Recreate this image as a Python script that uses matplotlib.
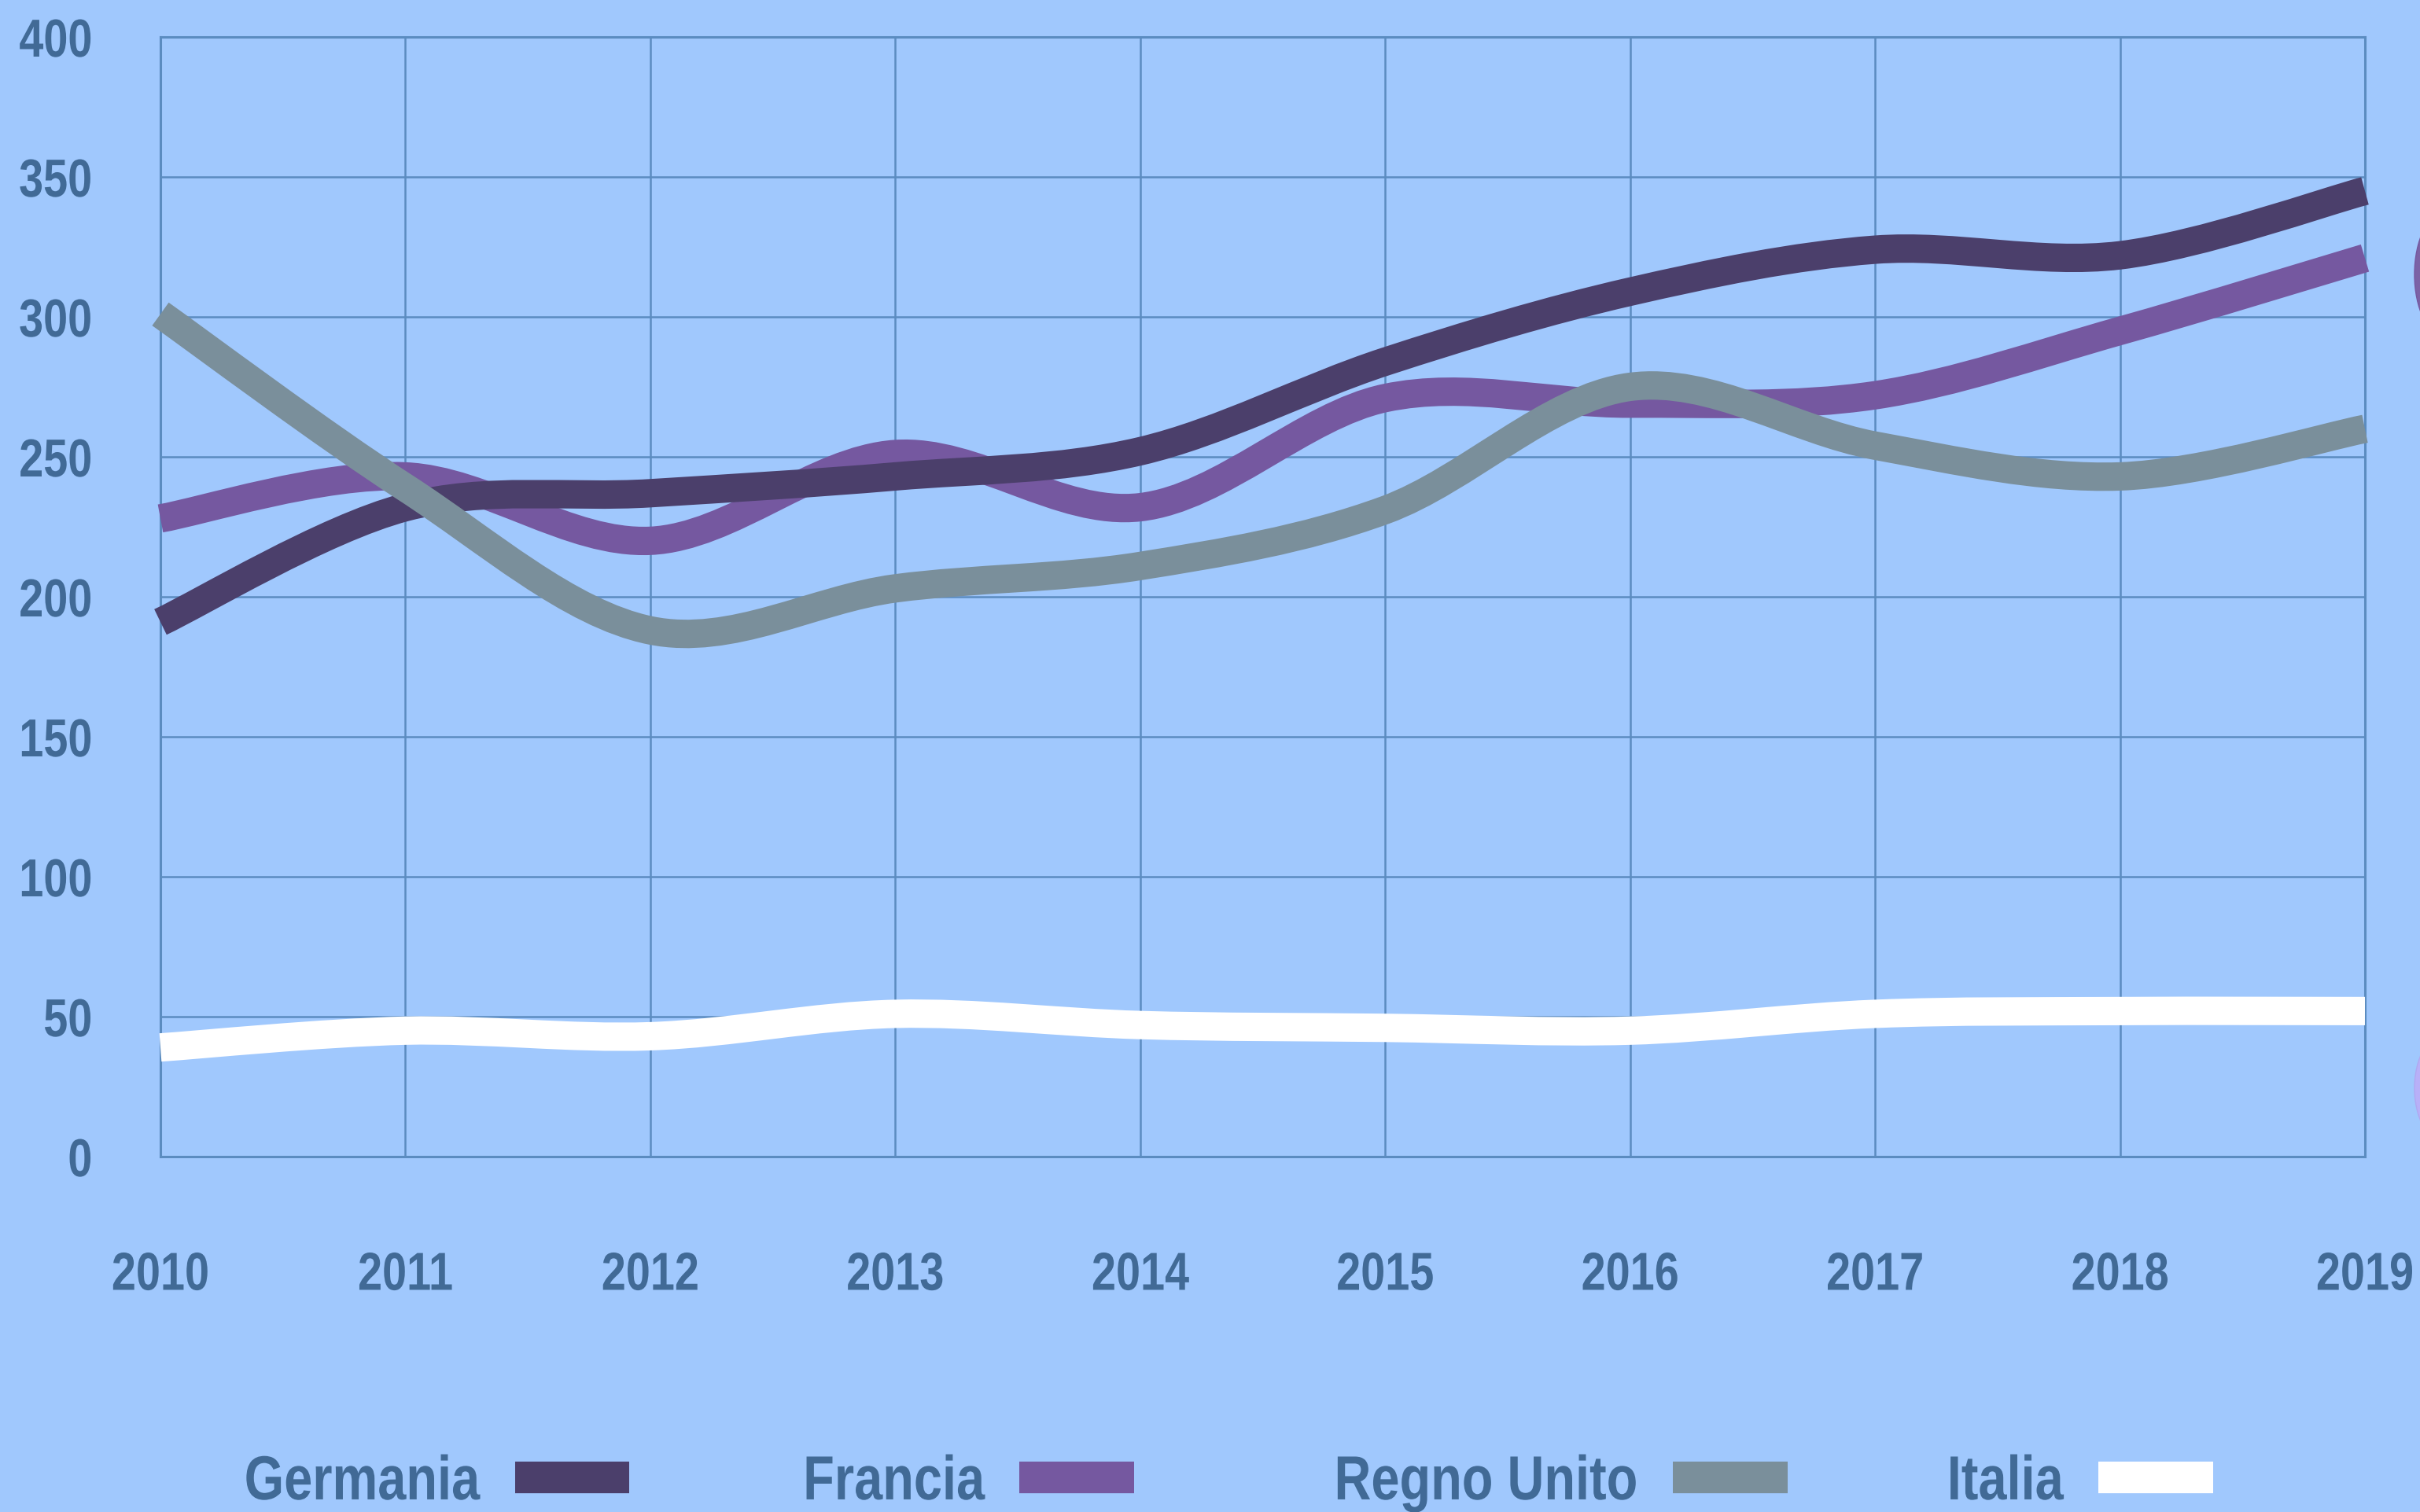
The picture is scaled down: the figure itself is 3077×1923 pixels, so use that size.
import matplotlib
matplotlib.use("Agg")
import matplotlib.pyplot as plt
from matplotlib.path import Path
from matplotlib.patches import PathPatch, Ellipse
from matplotlib.lines import Line2D
from matplotlib.patheffects import AbstractPathEffect
from matplotlib.transforms import Affine2D

years = [2010, 2011, 2012, 2013, 2014, 2015, 2016, 2017, 2018, 2019]
germania = [191, 232, 237, 243, 252, 284, 309, 324, 322, 345]
francia = [228, 243, 220, 251, 232, 271, 269, 272, 295, 321]
regno_unito = [301, 239, 188, 203, 211, 231, 275, 254, 243, 260]
italia = [39, 45, 43, 51, 47, 46, 45, 51, 52, 52]
series_names = ["Germania", "Francia", "Regno Unito", "Italia"]
y_ticks = [0, 50, 100, 150, 200, 250, 300, 350, 400]

colors = {"Germania": "#4b3f6b", "Francia": "#7558a0",
          "Regno Unito": "#7a8f9b", "Italia": "#ffffff"}
BG = "#a0c8fd"
GRID = "#5b8cc0"
TXT = "#416a96"

plt.rcParams["font.family"] = ["Liberation Sans", "DejaVu Sans"]


class Condense(AbstractPathEffect):
    """Draw text horizontally condensed (like a narrow font)."""

    def __init__(self, scale=0.82, anchor="center"):
        super().__init__()
        self.scale = scale
        self.anchor = anchor

    def draw_path(self, renderer, gc, tpath, affine, rgbFace=None):
        ext = tpath.get_extents()
        if self.anchor == "left":
            a = ext.x0
        elif self.anchor == "right":
            a = ext.x1
        else:
            a = 0.5 * (ext.x0 + ext.x1)
        t = Affine2D().translate(-a, 0).scale(self.scale, 1).translate(a, 0) + affine
        renderer.draw_path(gc, tpath, t, rgbFace)


W, H, DPI = 3077, 1924, 100
fig = plt.figure(figsize=(W / DPI, H / DPI), dpi=DPI, facecolor=BG)
ax = fig.add_axes([204 / W, 1 - 1472 / H, (3007 - 204) / W, (1472 - 48) / H])
ax.set_facecolor(BG)
ax.set_xlim(years[0], years[-1])
ax.set_ylim(0, 400)
ax.set_xticks(years)
ax.set_xticklabels([str(y) for y in years])
ax.set_yticks(y_ticks)
ax.set_yticklabels([str(v) for v in y_ticks])
ax.grid(True, color=GRID, linewidth=1.8)
ax.set_axisbelow(True)
for s in ax.spines.values():
    s.set_color(GRID)
    s.set_linewidth(2.2)
ax.tick_params(axis="both", length=0, labelcolor=TXT, labelsize=49)
ax.tick_params(axis="y", pad=62)
ax.tick_params(axis="x", pad=86)
for lab in ax.get_xticklabels():
    lab.set_fontweight("bold")
    lab.set_path_effects([Condense(0.82, "center")])
for lab in ax.get_yticklabels():
    lab.set_fontweight("bold")
    lab.set_path_effects([Condense(0.82, "right")])


def smooth_path(xs, ys):
    pts = list(zip(xs, ys))
    n = len(pts)
    verts = [pts[0]]
    codes = [Path.MOVETO]
    for i in range(n - 1):
        p0 = pts[i - 1] if i > 0 else pts[i]
        p1 = pts[i]
        p2 = pts[i + 1]
        p3 = pts[i + 2] if i + 2 < n else pts[i + 1]
        c1 = (p1[0] + (p2[0] - p0[0]) / 6, p1[1] + (p2[1] - p0[1]) / 6)
        c2 = (p2[0] - (p3[0] - p1[0]) / 6, p2[1] - (p3[1] - p1[1]) / 6)
        verts += [c1, c2, p2]
        codes += [Path.CURVE4] * 3
    return Path(verts, codes)


data = {"Germania": germania, "Francia": francia,
        "Regno Unito": regno_unito, "Italia": italia}
draw_order = ["Francia", "Germania", "Regno Unito", "Italia"]
LW = 26
for z, name in enumerate(draw_order):
    patch = PathPatch(smooth_path(years, data[name]), facecolor="none",
                      edgecolor=colors[name], linewidth=LW, capstyle="butt",
                      joinstyle="round", zorder=3 + z, clip_on=False)
    ax.add_patch(patch)

handles = [Line2D([], [], color=colors[n], linewidth=29, solid_capstyle="butt")
           for n in series_names]
leg = fig.legend(handles, series_names, loc="center", bbox_to_anchor=(0.497, 0.019),
                 ncol=4, frameon=False, markerfirst=False,
                 handlelength=1.84, handletextpad=0.56, columnspacing=2.15,
                 prop={"weight": "bold", "size": 57})
for t in leg.get_texts():
    t.set_color(TXT)
    t.set_path_effects([Condense(0.82, "right")])

# decorative shapes clipped at right edge
fig.patches.append(Ellipse((3110 / W, 1 - 350 / H), 80 / W, 160 / H,
                           transform=fig.transFigure, facecolor="#7b62a6",
                           edgecolor="#7558a0", zorder=0))
fig.patches.append(Ellipse((3110 / W, 1 - 1385 / H), 80 / W, 140 / H,
                           transform=fig.transFigure, facecolor="#b8b0f8",
                           edgecolor="#b0a8f0", zorder=0))

fig.savefig("out.png", dpi=DPI, facecolor=BG)
